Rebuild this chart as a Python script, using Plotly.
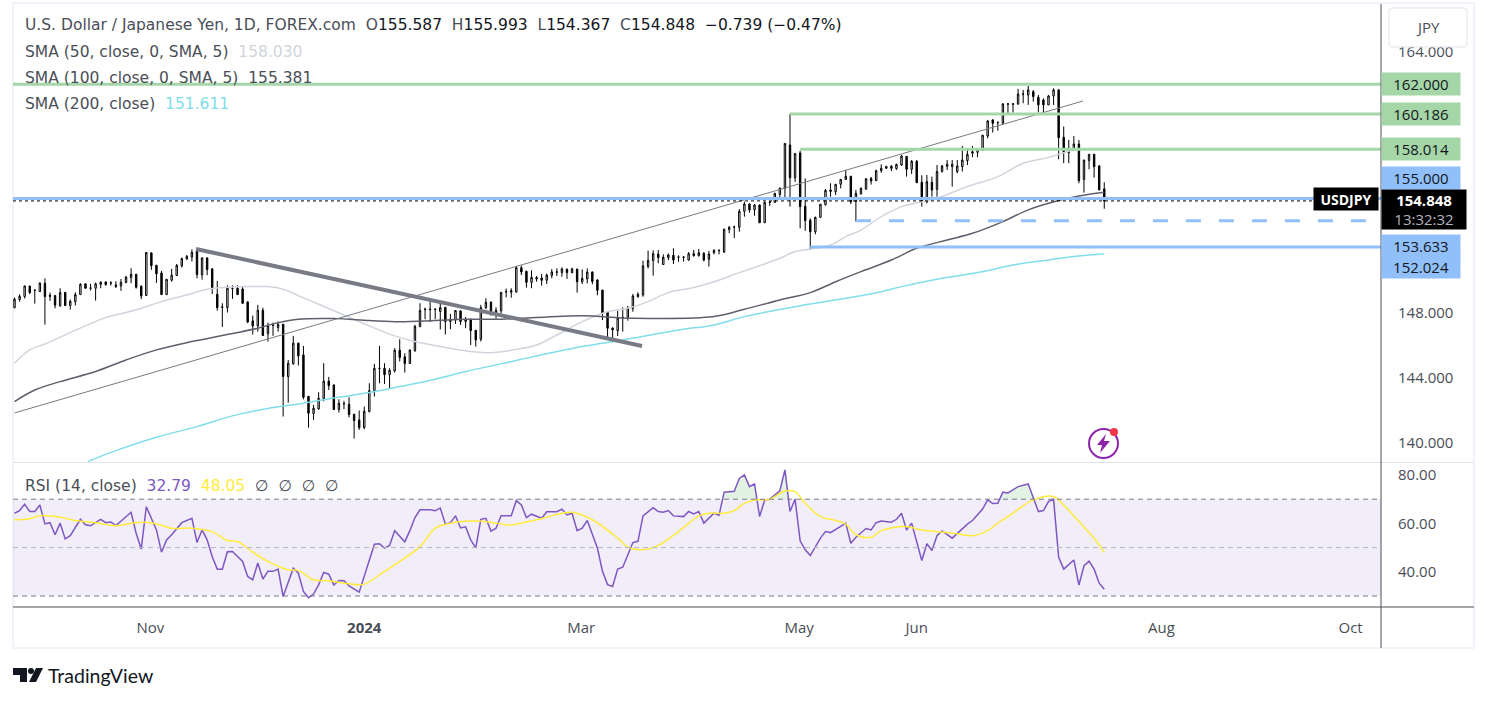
import pandas as pd
import plotly.express as px
import plotly.graph_objects as go

candles = pd.DataFrame([
    [148.30,148.92,148.26,148.82],[148.80,149.12,148.67,149.00],[148.98,149.65,148.86,149.63],[149.63,149.63,149.14,149.22],
    [149.35,149.43,148.55,149.37],[149.29,149.86,149.27,149.80],[149.80,150.10,147.26,148.98],[149.06,149.22,148.71,149.00],
    [149.04,149.08,148.26,148.45],[148.41,149.49,148.37,149.22],[149.24,149.24,148.41,148.43],[148.43,148.80,148.18,148.69],
    [148.67,149.24,148.43,149.10],[149.10,149.80,149.08,149.73],[149.76,149.78,149.47,149.49],[149.49,149.76,149.35,149.51],
    [149.49,149.84,148.73,149.76],[149.73,149.92,149.49,149.86],[149.88,149.90,149.65,149.71],[149.80,149.92,149.65,149.82],
    [149.69,149.92,149.51,149.59],[149.63,150.06,149.33,149.86],[149.84,150.25,149.80,150.17],[150.14,150.72,149.80,150.35],
    [150.35,150.37,149.47,149.55],[149.61,149.67,148.82,149.02],[149.04,151.70,149.04,151.68],[151.66,151.68,150.62,150.88],
    [150.90,150.92,149.82,150.37],[150.43,150.55,149.08,149.10],[149.10,150.06,149.08,150.04],[149.98,150.68,149.90,150.29],
    [150.27,150.98,150.25,150.90],[150.86,151.37,150.76,151.31],[151.29,151.53,151.23,151.45],[151.41,151.88,151.13,151.70],
    [151.74,151.76,150.10,150.33],[150.31,151.39,150.02,151.35],[151.35,151.39,150.29,150.64],[150.68,150.72,149.14,149.51],
    [149.12,149.94,148.12,148.30],[148.35,148.57,147.12,148.32],[148.30,149.67,148.00,149.49],[149.47,149.67,148.84,149.49],
    [149.49,149.67,149.08,149.10],[149.45,149.63,148.53,148.57],[148.65,148.69,147.34,147.42],[147.49,147.81,146.65,147.18],
    [147.18,148.47,146.83,148.14],[148.14,148.30,146.57,146.59],[146.71,147.38,146.22,147.18],[147.24,147.38,146.57,147.22],
    [147.08,147.45,146.83,147.28],[147.28,147.30,141.62,144.07],[144.07,145.09,142.47,144.89],[144.85,146.57,144.81,146.12],
    [146.12,146.16,144.75,145.34],[145.40,145.95,142.68,142.80],[142.86,142.88,140.94,141.82],[141.80,142.33,141.41,142.13],
    [142.09,143.11,142.03,142.74],[142.72,144.89,142.56,143.79],[143.79,144.05,143.25,143.52],[143.56,143.58,142.03,142.05],
    [142.05,142.68,141.86,142.44],[142.40,142.58,142.07,142.41],[142.37,142.80,141.57,141.74],[141.76,141.78,140.27,141.37],
    [141.41,141.99,140.80,140.94],[140.94,142.23,140.84,141.94],[141.92,143.66,141.88,143.21],[143.21,144.85,142.85,144.58],
    [144.56,145.95,143.66,144.58],[144.58,144.89,143.62,144.19],[144.19,144.58,143.35,144.46],[144.42,145.81,144.32,145.69],
    [145.69,146.36,145.00,145.24],[145.28,145.50,144.32,144.87],[144.87,145.75,144.85,145.69],[145.67,147.24,145.58,147.16],
    [147.14,148.57,147.10,148.12],[148.18,148.30,147.59,148.20],[148.18,148.80,147.42,148.20],[148.18,148.26,147.59,148.20],
    [148.06,148.63,146.96,148.30],[148.32,148.32,146.65,147.45],[147.45,147.92,146.98,147.59],[147.55,148.14,147.30,148.12],
    [148.10,148.14,147.24,147.45],[147.45,147.73,147.04,147.59],[147.59,147.63,146.01,146.89],[146.91,146.93,145.91,146.32],
    [146.36,148.47,146.22,148.30],[148.30,148.88,148.20,148.63],[148.63,148.69,147.81,147.88],[147.90,148.32,147.63,148.14],
    [148.10,149.26,147.95,149.24],[149.26,149.47,148.93,149.28],[149.34,149.49,148.91,149.26],[149.26,150.86,149.22,150.75],
    [150.75,150.88,150.30,150.49],[150.53,150.57,149.53,149.85],[149.85,150.59,149.49,150.16],[150.06,150.24,149.89,150.14],
    [150.12,150.37,149.65,149.98],[149.98,150.39,149.75,150.30],[150.28,150.67,150.10,150.49],[150.47,150.71,150.24,150.49],
    [150.45,150.77,150.20,150.67],[150.65,150.71,150.06,150.45],[150.45,150.75,150.41,150.67],[150.67,150.67,149.22,149.89],
    [149.89,150.65,149.75,150.10],[150.06,150.71,149.79,150.49],[150.49,150.51,149.73,149.91],[150.00,150.04,149.06,149.36],
    [149.38,149.38,147.54,147.95],[148.03,148.07,146.48,147.03],[147.05,147.09,146.44,146.93],[146.89,148.12,146.56,147.67],
    [147.71,148.32,146.83,147.65],[147.71,148.40,147.50,148.28],[148.24,149.14,148.05,149.02],[148.97,149.24,148.91,149.12],
    [149.08,151.18,148.97,150.86],[150.82,151.80,150.71,151.20],[151.18,151.82,150.26,151.61],[151.59,151.84,151.02,151.37],
    [150.94,151.57,150.92,151.39],[151.37,151.63,151.22,151.53],[151.51,151.94,150.98,151.22],[151.39,151.51,151.12,151.41],
    [151.41,151.47,151.12,151.39],[151.22,151.71,151.18,151.61],[151.61,151.84,151.43,151.49],[151.49,151.90,151.43,151.67],
    [151.63,151.71,151.14,151.22],[151.26,151.78,150.82,151.59],[151.67,151.88,151.57,151.82],[151.80,151.86,151.57,151.82],
    [151.71,153.15,151.67,153.11],[153.09,153.31,152.86,153.23],[153.23,153.33,152.57,153.25],[153.23,154.35,152.96,154.21],
    [154.21,154.80,153.88,154.66],[154.66,154.70,154.13,154.29],[154.31,154.66,153.94,154.60],[154.60,154.62,153.49,153.51],
    [153.51,154.80,153.49,154.76],[154.76,154.84,154.54,154.78],[154.76,155.35,154.74,155.31],[155.25,155.68,154.99,155.62],
    [155.62,158.38,154.99,158.38],[158.28,160.18,154.50,156.27],[156.27,157.79,156.01,157.75],[157.79,157.93,153.17,154.50],
    [154.52,156.23,153.02,153.64],[153.66,153.78,151.84,152.96],[152.96,153.88,152.80,153.84],[153.84,154.66,153.82,154.64],
    [154.62,155.58,154.56,155.50],[155.42,155.93,155.11,155.52],[155.42,155.89,155.21,155.87],[155.87,156.19,155.62,156.17],
    [156.17,156.75,156.13,156.36],[156.36,156.38,154.66,154.80],[154.80,155.52,153.58,155.31],[155.29,155.68,155.23,155.62],
    [155.58,156.23,155.52,156.21],[156.23,156.32,155.85,156.07],[156.09,156.77,156.07,156.70],[156.70,157.09,156.58,156.85],
    [156.85,156.99,156.81,156.97],[156.97,157.05,156.68,156.85],[156.83,157.13,156.75,157.09],[157.05,157.67,156.99,157.60],
    [157.58,157.60,156.34,156.79],[156.79,157.36,156.50,157.28],[157.28,157.36,155.97,155.97],[155.99,156.42,154.50,154.82],
    [154.80,156.44,154.70,156.03],[155.99,156.34,155.11,155.52],[155.56,157.05,155.11,156.65],[156.67,157.05,156.58,156.99],
    [156.97,157.36,156.75,157.10],[156.95,157.36,155.73,157.10],[156.65,157.36,156.54,156.99],[156.95,158.22,156.65,157.36],
    [157.32,157.97,157.05,157.71],[157.77,158.22,157.53,157.87],[157.83,158.08,157.53,158.04],[157.97,158.90,157.91,158.88],
    [158.83,159.82,158.69,159.75],[159.82,159.86,159.04,159.61],[159.65,159.71,159.16,159.67],[159.61,160.84,159.57,160.80],
    [160.78,160.84,160.23,160.80],[160.78,160.84,160.27,160.80],[160.80,161.72,160.74,161.41],[161.39,161.66,160.84,161.41],
    [161.35,161.90,160.74,161.66],[161.55,161.66,160.94,161.25],[161.21,161.35,160.27,160.74],[161.04,161.14,160.27,160.74],
    [160.74,161.35,160.74,161.29],[161.29,161.76,160.74,161.66],[161.66,161.70,157.40,158.73],[158.75,159.41,157.16,157.81],
    [157.81,158.59,157.16,158.08],[158.02,158.83,157.97,158.34],[158.34,158.59,155.93,156.09],[156.17,157.36,155.36,157.36],
    [157.32,157.71,156.79,157.71],[157.71,157.71,156.28,156.95],[156.99,157.05,155.52,155.52],[155.587,155.993,154.367,154.848],
], columns=['open', 'high', 'low', 'close'])

sma50 = [[0,144.89],[3,145.71],[6,146.07],[10,146.63],[14,147.18],[18,147.69],[22,148.00],[25,148.26],[29,148.67],
         [34,149.08],[38,149.43],[42,149.55],[46,149.59],[50,149.59],[53,149.43],[56,149.04],[60,148.51],[66,147.71],
         [70,147.18],[75,146.57],[79,146.22],[84,145.91],[89,145.65],[94,145.54],[99,145.74],[103,146.01],[107,146.62],
         [112,147.44],[117,148.05],[121,148.26],[125,148.67],[129,149.22],[134,149.53],[138,149.89],[143,150.45],
         [148,150.98],[151,151.33],[154,151.74],[158,151.94],[161,152.14],[164,152.66],[167,153.06],[171,153.88],
         [175,154.50],[179,154.80],[182,155.01],[188,155.73],[194,156.34],[199,157.16],[204,157.52],[209,157.97],
         [213,158.06],[215,158.03]]
sma100 = [[0,142.54],[4,143.25],[9,143.76],[16,144.38],[22,145.09],[28,145.71],[35,146.22],[40,146.53],[44,146.77],
          [48,147.04],[52,147.38],[56,147.59],[63,147.63],[70,147.51],[76,147.43],[83,147.51],[89,147.59],[96,147.59],
          [100,147.65],[112,147.81],[122,147.65],[138,147.75],[144,148.20],[151,148.77],[157,149.22],[162,149.89],
          [167,150.51],[173,151.22],[178,151.94],[184,152.45],[189,152.86],[195,153.58],[200,154.30],[206,154.87],
          [210,155.15],[215,155.38]]
sma200 = [[14.5,138.87],[20,139.53],[28,140.35],[36,141.00],[43,141.66],[50,142.11],[56,142.39],[63,142.76],[70,143.09],
          [76,143.46],[83,143.91],[89,144.38],[96,144.85],[100,145.13],[112,145.91],[120,146.32],[131,146.93],
          [138,147.24],[144,147.75],[154,148.36],[164,148.87],[171,149.28],[175,149.59],[182,150.04],[190,150.45],
          [197,150.92],[204,151.23],[210,151.47],[215,151.61]]
fall_line = [[35.8,151.90],[123.8,145.95]]
rise_line = [[0,141.84],[210.8,160.98]]

rows = []
for study, points in [('SMA 50', sma50), ('SMA 100', sma100), ('SMA 200', sma200), ('Fall', fall_line), ('Rise', rise_line)]:
    for bar, price in points:
        rows.append(dict(bar=bar, price=price, study=study))
lines = pd.DataFrame(rows)

rsi = [[0,64.2],[1,65.3],[2,67.9],[3,64.9],[4,64.9],[5,67.6],[6,59.8],[7,60.3],[8,55.3],[9,60.1],[10,53.6],[11,54.9],
       [13,61.7],[14,59.4],[15,59.0],[17,61.7],[18,60.3],[19,60.6],[20,59.1],[23,64.6],[24,55.9],[25,49.4],[26,66.9],
       [28,57.3],[29,48.1],[30,53.2],[31,55.3],[33,60.3],[35,62.1],[36,52.1],[37,57.3],[38,53.2],[39,46.3],[40,41.1],
       [41,41.1],[42,48.3],[43,48.4],[45,44.3],[46,38.1],[47,36.7],[48,43.6],[49,37.0],[50,40.2],[51,40.2],[52,41.1],
       [53,29.8],[55,41.5],[56,39.4],[57,31.9],[58,29.3],[59,30.8],[60,34.6],[61,39.7],[62,39.0],[63,34.5],[64,36.4],
       [65,36.3],[66,34.2],[68,31.6],[69,38.1],[71,51.4],[72,51.6],[73,49.8],[74,50.9],[75,57.0],[77,52.4],[78,57.0],
       [79,62.4],[80,65.6],[82,65.6],[83,65.2],[84,66.3],[85,59.8],[86,60.3],[87,63.1],[88,58.1],[89,58.6],[90,53.2],
       [91,49.9],[92,61.7],[93,62.1],[94,56.8],[95,58.0],[96,63.2],[98,63.2],[99,69.4],[100,67.6],[101,62.4],[102,63.8],
       [104,62.1],[105,64.8],[107,64.8],[108,65.9],[109,63.5],[110,64.2],[111,57.0],[112,58.0],[113,61.2],[115,49.8],
       [116,40.2],[117,34.7],[118,33.9],[119,41.1],[120,41.9],[122,52.1],[123,52.6],[124,63.1],[126,66.5],[127,64.9],
       [128,64.6],[129,65.3],[130,63.1],[132,62.8],[133,64.9],[134,63.9],[135,64.9],[136,60.1],[138,64.2],[139,63.4],
       [140,72.9],[142,73.3],[143,78.6],[144,80.0],[145,75.2],[146,76.3],[147,62.8],[148,69.7],[149,70.0],[151,73.5],
       [152,82.1],[153,64.9],[154,70.0],[155,52.8],[156,49.1],[157,46.7],[159,53.9],[160,56.6],[161,56.2],[164,60.1],
       [165,51.8],[166,54.3],[168,57.9],[169,57.3],[170,60.3],[171,61.0],[173,60.5],[174,61.7],[175,64.2],[176,57.3],
       [177,60.1],[179,44.7],[180,51.6],[181,48.8],[182,54.9],[183,56.9],[185,53.9],[188,59.7],[189,61.2],[191,65.9],
       [192,69.7],[193,68.2],[194,68.3],[195,72.9],[196,72.6],[198,75.2],[200,76.3],[202,64.9],[203,65.3],[204,69.0],
       [205,70.0],[206,46.1],[207,41.1],[209,44.9],[210,34.5],[211,42.5],[212,44.4],[213,41.1],[214,35.3],[215,32.79]]
rsi_ma = [[0,61.5],[3,61.9],[5,63.2],[9,62.5],[12,61.2],[16,60.3],[20,59.0],[23,60.1],[27,60.3],[31,58.0],[35,58.0],
          [39,56.6],[42,52.9],[44,52.5],[47,48.1],[50,44.3],[54,40.8],[56,40.6],[59,36.7],[62,36.3],[66,35.1],[69,34.9],
          [73,40.2],[76,44.3],[80,50.4],[83,58.0],[86,60.1],[89,60.9],[92,60.9],[96,59.8],[98,59.3],[101,60.6],[103,61.5],
          [106,63.1],[110,64.6],[114,61.5],[119,53.9],[121,50.2],[124,49.1],[127,50.9],[131,56.6],[135,63.1],[137,64.2],
          [140,64.2],[142,65.3],[144,68.3],[146,69.7],[149,70.0],[151,72.4],[152,73.4],[154,73.1],[156,68.3],[159,62.8],
          [162,61.2],[164,59.7],[166,55.3],[169,54.3],[171,57.0],[175,58.7],[176,58.7],[179,57.3],[183,56.4],[186,55.7],
          [189,54.9],[192,57.0],[194,60.1],[197,64.2],[201,69.7],[205,71.1],[207,67.6],[210,60.8],[213,53.9],[215,48.05]]
over_x = [139.6,140,142,143,144,145,146,146.5,None,149,151,152,152.5,None,194.4,195,196,198,200,201.2]
over_y = [70,72.9,73.3,78.6,80,75.2,76.3,70,None,70,73.5,82.1,70,None,70,72.9,72.6,75.2,76.3,70]

xp = lambda p: (p - 13) / 1368  # picture pixels to paper
yp = lambda p: (607 - p) / 603

fig = px.line(lines,
              x='bar',
              y='price',
              color='study',
              line_shape='spline',
              color_discrete_map={
                 "SMA 50": "#D1D4DC",
                 "SMA 100": "#5D606B",
                 "SMA 200": "#80DEEA",
                 "Fall": "#787B86",
                 "Rise": "#787B86"
             })
fig.update_traces(line_width=1.5)
fig.update_traces(line_width=4, selector=dict(name='Fall'))
fig.update_traces(line_width=1, selector=dict(name='Rise'))

fig.add_trace(go.Candlestick(x=candles.index,
                             open=candles['open'],
                             high=candles['high'],
                             low=candles['low'],
                             close=candles['close'],
                             increasing=dict(line=dict(color='black', width=1), fillcolor='white'),
                             decreasing=dict(line=dict(color='black', width=1), fillcolor='black'),
                             whiskerwidth=0,
                             hoverinfo='skip'))
fig.add_trace(go.Scatter(x=over_x, y=over_y, yaxis='y2', mode='none', fill='toself',
                         fillcolor='rgba(76,175,80,0.16)'))
fig.add_trace(go.Scatter(x=[r[0] for r in rsi], y=[r[1] for r in rsi], yaxis='y2', mode='lines',
                         line=dict(color='#7E57C2', width=1.5)))
fig.add_trace(go.Scatter(x=[r[0] for r in rsi_ma], y=[r[1] for r in rsi_ma], yaxis='y2', mode='lines',
                         line=dict(color='#FFEB3B', width=1.5, shape='spline')))

# level lines
for price, start, color in [(162.0, -0.3, '#A5D6A7'), (160.186, 153, '#A5D6A7'), (158.014, 155, '#A5D6A7'),
                            (155.0, -0.3, '#90BFF9'), (152.024, 157, '#90BFF9')]:
    fig.add_shape(type='line', x0=start, x1=269.6, y0=price, y1=price, xref='x', yref='y',
                  line=dict(color=color, width=3), layer='above')
fig.add_shape(type='line', x0=166, x1=269.6, y0=153.633, y1=153.633, xref='x', yref='y',
              line=dict(color='#90BFF9', width=3, dash='15px 18px'), layer='above')
fig.add_shape(type='line', x0=-0.3, x1=269.6, y0=154.848, y1=154.848, xref='x', yref='y',
              line=dict(color='black', width=1, dash='dot'), layer='above')

# rsi band
fig.add_shape(type='rect', x0=-0.3, x1=269.6, y0=30, y1=70, xref='x', yref='y2',
              fillcolor='rgba(126,87,194,0.1)', line_width=0, layer='below')
for level, color in [(70, '#787B86'), (50, '#B2B5BE'), (30, '#787B86')]:
    fig.add_shape(type='line', x0=-0.3, x1=269.6, y0=level, y1=level, xref='x', yref='y2',
                  line=dict(color=color, width=1, dash='5px 4px'), layer='above')

# frame and separators
fig.add_shape(type='rect', x0=xp(13), x1=xp(1474), y0=yp(648), y1=yp(3), xref='paper', yref='paper',
              line=dict(color='#F0F3FA', width=2), layer='below')
fig.add_shape(type='line', x0=xp(13), x1=xp(1474), y0=yp(462.5), y1=yp(462.5), xref='paper', yref='paper',
              line=dict(color='#E0E3EB', width=1))
fig.add_shape(type='line', x0=xp(13), x1=xp(1474), y0=yp(607), y1=yp(607), xref='paper', yref='paper',
              line=dict(color='#4A4E57', width=1))
fig.add_shape(type='line', x0=xp(1381), x1=xp(1381), y0=yp(648), y1=yp(4), xref='paper', yref='paper',
              line=dict(color='#4A4E57', width=1))
# currency button
fig.add_shape(type='path', path=f"M {xp(1392)} {yp(8)} L {xp(1464)} {yp(8)} Q {xp(1467)} {yp(8)} {xp(1467)} {yp(11)} "
                                f"L {xp(1467)} {yp(44)} Q {xp(1467)} {yp(47)} {xp(1464)} {yp(47)} L {xp(1392)} {yp(47)} "
                                f"Q {xp(1389)} {yp(47)} {xp(1389)} {yp(44)} L {xp(1389)} {yp(11)} Q {xp(1389)} {yp(8)} {xp(1392)} {yp(8)} Z",
              xref='paper', yref='paper', fillcolor='white', line=dict(color='#E0E3EB', width=1), layer='above')
# lightning badge
fig.add_shape(type='circle', x0=xp(1089), x1=xp(1118), y0=yp(458), y1=yp(429), xref='paper', yref='paper',
              fillcolor='white', line=dict(color='#8E24AA', width=2), layer='above')
fig.add_shape(type='path', path=f"M {xp(1106)} {yp(434)} L {xp(1097)} {yp(445)} L {xp(1102)} {yp(445)} L {xp(1100)} {yp(453)} "
                                f"L {xp(1110)} {yp(441)} L {xp(1104)} {yp(441)} Z",
              xref='paper', yref='paper', fillcolor='#8E24AA', line_width=0, layer='above')
fig.add_shape(type='circle', x0=xp(1110), x1=xp(1118), y0=yp(436), y1=yp(428), xref='paper', yref='paper',
              fillcolor='#F23645', line_width=0, layer='above')
# logo
fig.add_shape(type='path', path=f"M {xp(13)} {yp(668)} L {xp(27)} {yp(668)} L {xp(27)} {yp(682)} L {xp(20)} {yp(682)} "
                                f"L {xp(20)} {yp(675)} L {xp(13)} {yp(675)} Z",
              xref='paper', yref='paper', fillcolor='#131722', line_width=0)
fig.add_shape(type='circle', x0=xp(28), x1=xp(34), y0=yp(674), y1=yp(668), xref='paper', yref='paper',
              fillcolor='#131722', line_width=0)
fig.add_shape(type='path', path=f"M {xp(36)} {yp(668)} L {xp(43)} {yp(668)} L {xp(36)} {yp(682)} L {xp(29)} {yp(682)} Z",
              xref='paper', yref='paper', fillcolor='#131722', line_width=0)

fig.update_layout(
    xaxis=dict(
        range=[-0.3, 269.6],
        anchor='y2',
        showgrid=False,
        zeroline=False,
        showline=False,
        tickmode='array',
        tickvals=[26.8, 69, 111.8, 154.8, 178, 226.3, 263.6],
        ticktext=['Nov', '<b>2024</b>', 'Mar', 'May', 'Jun', 'Aug', 'Oct'],
        ticks='outside',
        ticklen=7,
        tickcolor='white',
        tickfont=dict(family='Open Sans', size=15, color='#4A4E57'),
        rangeslider=dict(visible=False),
        title=None,
    ),
    yaxis=dict(
        domain=[yp(462), 1],
        range=[138.83, 166.93],
        side='right',
        showgrid=False,
        zeroline=False,
        tickmode='array',
        tickvals=[140, 144, 148, 164],
        ticktext=['140.000', '144.000', '148.000', '164.000'],
        ticks='outside',
        ticklen=13,
        tickcolor='white',
        tickfont=dict(family='Open Sans', size=15, color='#4A4E57'),
        title=None,
    ),
    yaxis2=dict(
        domain=[0, yp(463)],
        range=[25.46, 84.95],
        side='right',
        anchor='x',
        showgrid=False,
        zeroline=False,
        tickmode='array',
        tickvals=[40, 60, 80],
        ticktext=['40.00', '60.00', '80.00'],
        ticks='outside',
        ticklen=13,
        tickcolor='white',
        tickfont=dict(family='Open Sans', size=15, color='#4A4E57'),
    ),
    autosize=False,
    width=1489,
    height=702,
    margin=dict(
        autoexpand=False,
        l=13,
        r=108,
        t=4,
        b=95,
    ),
    boxgap=0.6,
    showlegend=False,
    plot_bgcolor='white',
    paper_bgcolor='white',
)

grey = '#4A4E57'
dark = '#131722'
tags = [(162.0, '162.000', '#A5D6A7', 0), (160.186, '160.186', '#A5D6A7', 0), (158.014, '158.014', '#A5D6A7', 0),
        (155.0, '155.000', '#90BFF9', 20), (153.633, '153.633', '#90BFF9', -25), (152.024, '152.024', '#90BFF9', -20)]
notes = []
for price, label, color, shift in tags:
    notes.append(dict(xref='paper', yref='y', x=1.0, y=price, xanchor='left', yanchor='middle', yshift=shift,
                      text=label, font=dict(family='Open Sans', size=15, color=dark), showarrow=False,
                      bgcolor=color, width=76, height=20))
notes.append(dict(xref='paper', yref='y', x=1.0, y=154.848, xanchor='left', yanchor='middle', yshift=-9,
                  text="<b>154.848</b><br><span style='color:#B2B5BE'>13:32:32</span>",
                  font=dict(family='Open Sans', size=15, color='white'), showarrow=False, bgcolor='black', width=82, height=37))
notes.append(dict(xref='paper', yref='y', x=1.0, y=154.848, xanchor='right', yanchor='middle', xshift=-2, yshift=2,
                  text='<b>USDJPY</b>', font=dict(family='Open Sans', size=14, color='white'), showarrow=False,
                  bgcolor='black', width=62, height=20))
notes.append(dict(xref='paper', yref='paper', x=xp(1428), y=yp(27), xanchor='center', yanchor='middle',
                  text='JPY', font=dict(family='Open Sans', size=15, color=grey), showarrow=False))
legend = [
    (25, f"U.S. Dollar / Japanese Yen, 1D, FOREX.com&#160;&#160;O<span style='color:{dark}'>155.587</span>&#160;&#160;"
         f"H<span style='color:{dark}'>155.993</span>&#160;&#160;L<span style='color:{dark}'>154.367</span>&#160;&#160;"
         f"C<span style='color:{dark}'>154.848</span>&#160;&#160;<span style='color:{dark}'>−0.739 (−0.47%)</span>"),
    (52, "SMA (50, close, 0, SMA, 5)&#160;&#160;<span style='color:#D1D4DC'>158.030</span>"),
    (78, f"SMA (100, close, 0, SMA, 5)&#160;&#160;<span style='color:{grey}'>155.381</span>"),
    (104, "SMA (200, close)&#160;&#160;<span style='color:#80DEEA'>151.611</span>"),
    (486, "RSI (14, close)&#160;&#160;<span style='color:#7E57C2'>32.79</span>&#160;&#160;<span style='color:#FFEB3B'>48.05</span>"
          "&#160;&#160;∅&#160;&#160;∅&#160;&#160;∅&#160;&#160;∅"),
]
for py, text in legend:
    notes.append(dict(xref='paper', yref='paper', x=xp(23), y=yp(py), xanchor='left', yanchor='middle', text=text,
                      font=dict(family='DejaVu Sans', size=15.5, color=grey), showarrow=False))
notes.append(dict(xref='paper', yref='paper', x=xp(46), y=yp(675), xanchor='left', yanchor='middle', text='TradingView',
                  font=dict(family='Lato', size=19.5, color=dark), showarrow=False))
fig.update_layout(annotations=notes)

fig.write_html("out.html", config=dict(displayModeBar=False), post_script="document.body.style.margin='0';")
